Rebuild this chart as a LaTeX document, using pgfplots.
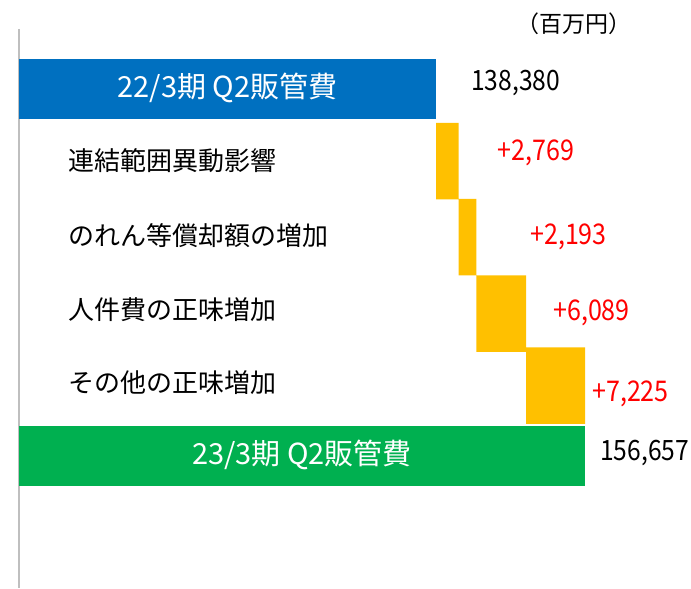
\documentclass[border=0pt]{standalone}
\usepackage{pgfplots}
\pgfplotsset{compat=1.18}
\usepackage{fontspec}
\setmainfont{Noto Sans CJK JP}
\newfontfamily\numfont[FakeStretch=0.88]{Noto Sans CJK JP}
\definecolor{cblue}{HTML}{0070C0}
\definecolor{cyellow}{HTML}{FFC000}
\definecolor{cgreen}{HTML}{00B050}
\definecolor{cred}{HTML}{FF0000}
\definecolor{caxis}{HTML}{BFBFBF}
\begin{document}
\begin{tikzpicture}
\useasboundingbox (-19pt,-1pt) rectangle (672pt,588pt);
\begin{axis}[
  scale only axis, width=672pt, height=559pt,
  xbar stacked,
  xmin=87229, xmax=169660, ymin=29, ymax=588, y dir=reverse,
  enlargelimits=false,
  axis x line=none, axis y line=left,
  y axis line style={-, draw=caxis, line width=2pt},
  xtick=\empty, ytick=\empty,
  clip mode=individual,
]
% invisible base (cumulative start of each step)
\addplot[draw=none, fill=none, bar width=76.5] coordinates {(0,89) (138380,161) (141149,237) (143342,313.5) (149431,385.5) (0,456)};
% 22/3 Q2
\addplot[draw=none, fill=cblue, bar width=60] coordinates {(138380,89) (0,161) (0,237) (0,313.5) (0,385.5) (0,456)};
% increments
\addplot[draw=none, fill=cyellow, bar width=76.5] coordinates {(0,89) (2769,161) (2193,237) (6089,313.5) (7225,385.5) (0,456)};
% 23/3 Q2
\addplot[draw=none, fill=cgreen, bar width=60] coordinates {(0,89) (0,161) (0,237) (0,313.5) (0,385.5) (156657,456)};

\coordinate (lblA) at (axis cs:112805,88);
\coordinate (lblB) at (axis cs:121943,455);

\node[anchor=west, inner sep=0, font=\fontsize{26}{30}\selectfont] at (axis cs:93240,161) {連結範囲異動影響};
\node[anchor=west, inner sep=0, font=\fontsize{26}{30}\selectfont] at (axis cs:93240,236) {のれん等償却額の増加};
\node[anchor=west, inner sep=0, font=\fontsize{26}{30}\selectfont] at (axis cs:93240,310) {人件費の正味増加};
\node[anchor=west, inner sep=0, font=\fontsize{26}{30}\selectfont] at (axis cs:93240,383) {その他の正味増加};

\node[anchor=west, inner sep=0, font=\numfont\fontsize{28}{30}\selectfont] at (axis cs:142674,83) {138,380};
\node[anchor=west, inner sep=0, font=\numfont\fontsize{28}{30}\selectfont] at (axis cs:158498,453) {156,657};

\node[anchor=west, inner sep=0, text=cred, font=\numfont\fontsize{28.5}{30}\selectfont] at (axis cs:145950,153) {+2,769};
\node[anchor=west, inner sep=0, text=cred, font=\numfont\fontsize{28.5}{30}\selectfont] at (axis cs:149911,237) {+2,193};
\node[anchor=west, inner sep=0, text=cred, font=\numfont\fontsize{28.5}{30}\selectfont] at (axis cs:152732,313) {+6,089};
\node[anchor=west, inner sep=0, text=cred, font=\numfont\fontsize{28.5}{30}\selectfont] at (axis cs:157516,394) {+7,225};

\node[anchor=east, inner sep=0, font=\fontsize{23}{25}\selectfont] at (axis cs:162400,24) {（百万円）};
\end{axis}
\node[text=white, inner sep=0, font=\fontsize{29}{32}\selectfont] at (lblA) {22/3期 Q2販管費};
\node[text=white, inner sep=0, font=\fontsize{29}{32}\selectfont] at (lblB) {23/3期 Q2販管費};
\end{tikzpicture}
\end{document}
